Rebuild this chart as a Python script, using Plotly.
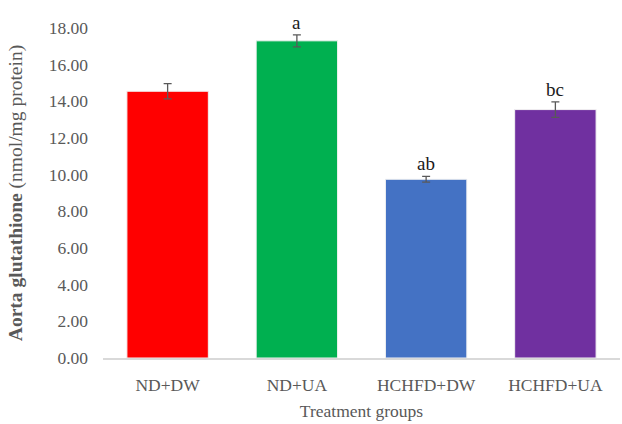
import plotly.graph_objects as go

# Aorta glutathione by treatment group (mean ± SE)
groups = ["ND+DW", "ND+UA", "HCHFD+DW", "HCHFD+UA"]
means = [14.55, 17.30, 9.75, 13.55]
errors = [0.42, 0.33, 0.16, 0.42]
letters = ["", "a", "ab", "bc"]
colors = ["#FF0000", "#00B050", "#4472C4", "#7030A0"]
y_ticks = [0, 2, 4, 6, 8, 10, 12, 14, 16, 18]

serif = "Liberation Serif, Times New Roman, serif"

fig = go.Figure(
    go.Bar(
        x=groups,
        y=means,
        marker=dict(color=colors, line=dict(color="#F2F2F2", width=1)),
        width=0.63,
        error_y=dict(type="data", array=errors, visible=True,
                     color="#595959", thickness=1.3, width=4),
        cliponaxis=False,
        hoverinfo="skip",
    )
)

for g, m, e, t in zip(groups, means, errors, letters):
    if t:
        fig.add_annotation(x=g, y=m + e, text=t, showarrow=False,
                           yanchor="bottom", yshift=0,
                           font=dict(family=serif, size=19, color="#1a1a1a"))

fig.update_layout(
    width=622, height=424,
    margin=dict(l=103, r=2, t=28, b=66),
    paper_bgcolor="white", plot_bgcolor="white",
    showlegend=False,
    font=dict(family=serif, color="#595959"),
    bargap=0.37,
)

fig.update_xaxes(
    showline=True, linecolor="#D9D9D9", linewidth=1.5,
    showgrid=False, ticks="",
    tickfont=dict(family=serif, size=17.5, color="#595959"),
    ticklabelstandoff=10,
    title=dict(text="Treatment groups", standoff=11,
               font=dict(family=serif, size=17.5, color="#595959")),
)

fig.update_yaxes(
    range=[0, 18], showline=False, showgrid=False, zeroline=False,
    tickvals=y_ticks, ticktext=[f"{v:.2f}" for v in y_ticks],
    ticks="", ticklabelstandoff=14,
    tickfont=dict(family=serif, size=17.5, color="#595959"),
    title=dict(text="<b>Aorta glutathione</b> (nmol/mg protein)", standoff=20,
               font=dict(family=serif, size=19.5, color="#595959")),
)

fig.write_html("out.html")
